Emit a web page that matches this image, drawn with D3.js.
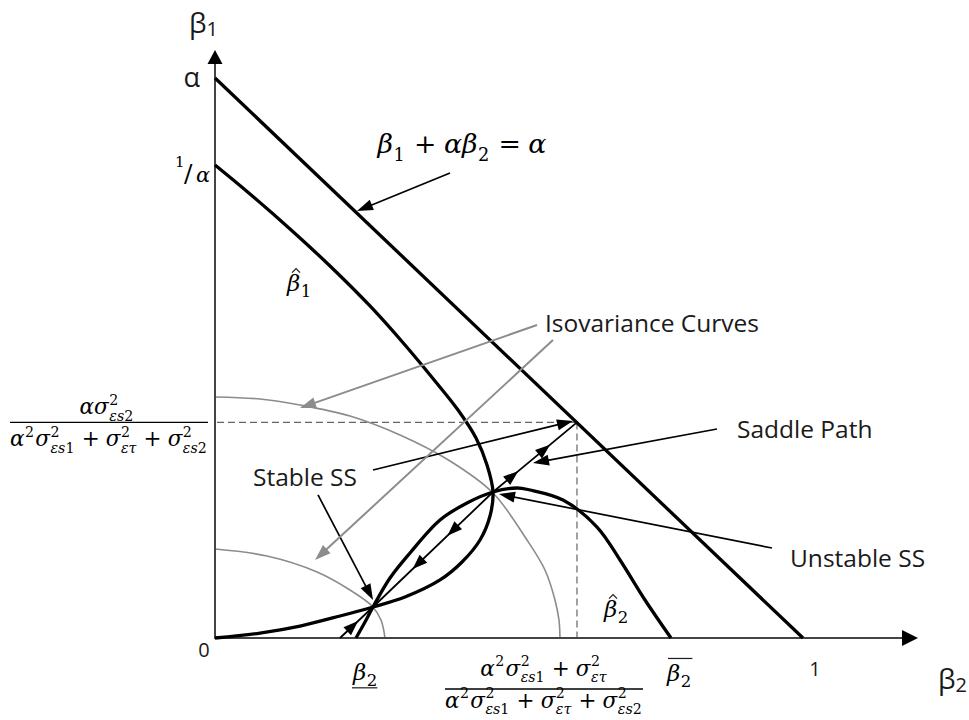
<!DOCTYPE html>
<html>
<head>
<meta charset="utf-8">
<script src="https://cdn.jsdelivr.net/npm/d3@7"></script>
<style>
  body { margin: 0; background: #fff; }
  svg { display: block; }
  .lbl { font-family: "Open Sans", sans-serif; fill: #1a1a1a; }
</style>
</head>
<body>
<div id="wrapper"></div>
<script>
// --- data: beta2 on x, beta1 on y (alpha normalised to 1) ---

const budgetLine = [[0, 1], [1, 0]]

// beta1-hat: from origin, through stable SS, lower lens, unstable SS, up to 1/alpha
const beta1Hat = [
  [0, 0], [0.0765, 0.0089], [0.1446, 0.0214], [0.2126, 0.0393], [0.2687, 0.0554],
  [0.3231, 0.0732], [0.3827, 0.1036], [0.4201, 0.1357], [0.4507, 0.1750], [0.4677, 0.2179],
  [0.4728, 0.2607], [0.4626, 0.3089], [0.4439, 0.3571], [0.4133, 0.4071], [0.3741, 0.4589],
  [0.3231, 0.5232], [0.2636, 0.5929], [0.1956, 0.6643], [0.1276, 0.7304], [0.0595, 0.7929],
  [0, 0.8446]
]

// beta2-hat: from the axis, through stable SS, upper lens, unstable SS, hump, down to beta2-bar
const beta2Hat = [
  [0.2398, 0], [0.2551, 0.0286], [0.2687, 0.0554], [0.2976, 0.1071], [0.3316, 0.1518],
  [0.3827, 0.2107], [0.4286, 0.2411], [0.4728, 0.2607], [0.5136, 0.2679], [0.5357, 0.2643],
  [0.5918, 0.2464], [0.6497, 0.1982], [0.6888, 0.1393], [0.7313, 0.0679], [0.7755, 0]
]

const isoOuter = [
  [0, 0.4304], [0.0765, 0.4268], [0.1446, 0.4161], [0.2296, 0.3964], [0.3146, 0.3625],
  [0.3997, 0.3161], [0.4728, 0.2589], [0.5306, 0.1750], [0.5612, 0.1214], [0.5782, 0.0679],
  [0.5850, 0.0321], [0.5867, 0]
]
const isoInner = [
  [0, 0.1589], [0.0884, 0.1464], [0.1735, 0.1179], [0.2296, 0.0857], [0.2670, 0.0571],
  [0.2823, 0.0321], [0.2891, 0]
]

// saddle path: axis -> stable SS -> unstable SS -> budget line
const saddlePath = [[0.2126, 0], [0.2687, 0.0554], [0.4728, 0.2607], [0.6156, 0.3850]]
const saddleArrows = [
  { seg: 0, t: 0.55, back: false },
  { seg: 1, t: 0.33, back: true },
  { seg: 1, t: 0.62, back: true },
  { seg: 2, t: 0.30, back: false },
  { seg: 2, t: 0.68, back: false }
]

const yTicks = { alpha: 1, invAlpha: 0.8446, frac: 0.3850 }
const xTicks = { low: 0.2602, frac: 0.6156, high: 0.7755, one: 1 }

// --- chart ---

const width = 969
const height = 720
const svg = d3.select("#wrapper").append("svg")
  .attr("width", width)
  .attr("height", height)

const x = d3.scaleLinear().domain([0, 1]).range([215, 803])
const y = d3.scaleLinear().domain([0, 1]).range([638, 78])
const P = d => [x(d[0]), y(d[1])]

const MATH = "'DejaVu Serif', serif"

const curve = d3.line()
  .x(d => x(d[0]))
  .y(d => y(d[1]))
  .curve(d3.curveCatmullRom.alpha(0.5))
const straight = d3.line().x(d => x(d[0])).y(d => y(d[1]))

function head(g, tip, from, len, wid, color) {
  const dx = tip[0] - from[0], dy = tip[1] - from[1]
  const L = Math.hypot(dx, dy)
  const ux = dx / L, uy = dy / L
  const bx = tip[0] - ux * len, by = tip[1] - uy * len
  g.append("path")
    .attr("d", `M${tip[0]},${tip[1]}L${bx - uy * wid / 2},${by + ux * wid / 2}L${bx + uy * wid / 2},${by - ux * wid / 2}Z`)
    .attr("fill", color)
}

function pointer(g, from, to, color, w) {
  const a = P(from), b = P(to)
  const L = Math.hypot(b[0] - a[0], b[1] - a[1])
  const k = (L - 8) / L
  g.append("line")
    .attr("x1", a[0]).attr("y1", a[1])
    .attr("x2", a[0] + (b[0] - a[0]) * k).attr("y2", a[1] + (b[1] - a[1]) * k)
    .attr("stroke", color).attr("stroke-width", w)
  head(g, b, a, 16, 11, color)
}

// dashed guides
const guides = svg.append("g")
  .attr("stroke", "#666").attr("stroke-width", 1.2).attr("stroke-dasharray", "7,4").attr("fill", "none")
guides.append("line")
  .attr("x1", x(0) + 2).attr("x2", x(xTicks.frac))
  .attr("y1", y(yTicks.frac)).attr("y2", y(yTicks.frac))
guides.append("line")
  .attr("x1", x(xTicks.frac)).attr("x2", x(xTicks.frac))
  .attr("y1", y(yTicks.frac)).attr("y2", y(0))

// isovariance curves
svg.selectAll(".iso").data([isoOuter, isoInner]).join("path")
  .attr("class", "iso")
  .attr("d", curve)
  .attr("fill", "none").attr("stroke", "#8c8c8c").attr("stroke-width", 1.6)

// axes
const axes = svg.append("g")
axes.append("line")
  .attr("x1", x(0)).attr("x2", x(0)).attr("y1", y(0) + 1).attr("y2", 62)
  .attr("stroke", "#444").attr("stroke-width", 2)
head(axes, [x(0), 50], [x(0), y(0)], 14, 15, "#000")
axes.append("line")
  .attr("x1", x(0) - 1).attr("x2", 905).attr("y1", y(0)).attr("y2", y(0))
  .attr("stroke", "#444").attr("stroke-width", 2)
head(axes, [918, y(0)], [x(0), y(0)], 16, 16, "#000")

// main curves
svg.append("path").attr("d", straight(budgetLine))
  .attr("fill", "none").attr("stroke", "#000").attr("stroke-width", 3.3)
svg.selectAll(".hat").data([beta1Hat, beta2Hat]).join("path")
  .attr("class", "hat")
  .attr("d", curve)
  .attr("fill", "none").attr("stroke", "#000").attr("stroke-width", 3.3)

// saddle path with arrows
const sp = svg.append("g")
sp.append("path").attr("d", straight(saddlePath))
  .attr("fill", "none").attr("stroke", "#000").attr("stroke-width", 1.8)
saddleArrows.forEach(a => {
  const p0 = P(saddlePath[a.seg]), p1 = P(saddlePath[a.seg + 1])
  const tip = [p0[0] + (p1[0] - p0[0]) * a.t, p0[1] + (p1[1] - p0[1]) * a.t]
  const from = a.back ? p1 : p0
  head(sp, tip, from, 15, 11, "#000")
})

// annotation pointers
const ann = svg.append("g")
pointer(ann, [0.3997, 0.8304], [0.2415, 0.7625], "#000", 1.7)
pointer(ann, [0.8537, 0.3732], [0.5408, 0.3125], "#000", 1.7)
pointer(ann, [0.2687, 0.3000], [0.6088, 0.3875], "#000", 1.7)
pointer(ann, [0.1752, 0.2554], [0.2687, 0.0679], "#000", 1.7)
pointer(ann, [0.9473, 0.1607], [0.4830, 0.2571], "#000", 1.7)
pointer(ann, [0.5476, 0.5589], [0.1446, 0.4107], "#8c8c8c", 2)
pointer(ann, [0.5748, 0.5321], [0.1701, 0.1393], "#8c8c8c", 2)

// text labels
const txt = svg.append("g").attr("class", "lbl").attr("font-size", 24.5)
txt.append("text").attr("x", 545).attr("y", 332).text("Isovariance Curves")
txt.append("text").attr("x", 737).attr("y", 438).text("Saddle Path")
txt.append("text").attr("x", 790).attr("y", 567).text("Unstable SS")
txt.append("text").attr("x", 253).attr("y", 486).text("Stable SS")

// axis titles
function sansBeta(px, py, sub) {
  const t = svg.append("text").attr("class", "lbl").attr("x", px).attr("y", py).attr("font-size", 28)
  t.append("tspan").text("β")
  t.append("tspan").attr("font-size", 20).attr("dy", 3).text(sub)
}
sansBeta(189, 33, "1")
sansBeta(938, 689, "2")

svg.append("text").attr("class", "lbl").attr("font-size", 27)
  .attr("x", x(0) - 15).attr("y", y(yTicks.alpha) + 9).attr("text-anchor", "end").text("α")
svg.append("text").attr("class", "lbl").attr("font-size", 20)
  .attr("x", x(0) - 11).attr("y", y(0) + 19).attr("text-anchor", "middle").text("0")
svg.append("text").attr("class", "lbl").attr("font-size", 20)
  .attr("x", x(xTicks.one) + 12).attr("y", y(0) + 38).attr("text-anchor", "middle").text("1")

// 1/alpha
const inv = svg.append("g").attr("font-family", MATH)
inv.append("text").attr("x", 175).attr("y", y(yTicks.invAlpha) + 2).attr("font-size", 15).text("1")
inv.append("text").attr("x", 184).attr("y", y(yTicks.invAlpha) + 17).attr("font-size", 25).text("/")
inv.append("text").attr("x", 196).attr("y", y(yTicks.invAlpha) + 17).attr("font-size", 21)
  .style("font-style", "italic").text("α")

// math helpers
function rich(g, str, px, py, size) {
  const t = g.append("text").attr("x", px).attr("y", py).attr("font-size", size).attr("font-family", MATH)
  for (const ch of str) {
    t.append("tspan").style("font-style", /[0-9+=\/ ]/.test(ch) ? "normal" : "italic").text(ch)
  }
  return t.node().getComputedTextLength()
}

function mathRow(parent, tokens, size) {
  const g = parent.append("g")
  let w = 0
  tokens.forEach(tok => {
    if (tok.op) {
      w += size * 0.28
      w += rich(g, tok.op, w, 0, size)
      w += size * 0.28
      return
    }
    w += rich(g, tok.b, w, 0, size)
    let s = 0
    if (tok.sup) s = Math.max(s, rich(g, tok.sup, w + 0.5, -size * 0.45, size * 0.66))
    if (tok.sub) s = Math.max(s, rich(g, tok.sub, w + 0.5, size * 0.3, size * 0.66))
    if (s) w += s + size * 0.08
  })
  return { g, w }
}

function sizeFor(tokens, targetW) {
  const r = mathRow(svg, tokens, 20)
  r.g.remove()
  return 20 * targetW / r.w
}

function place(tokens, size, cx, baseY) {
  const r = mathRow(svg, tokens, size)
  r.g.attr("transform", `translate(${cx - r.w / 2},${baseY})`)
}

const denom = [
  { b: "α", sup: "2" }, { b: "σ", sup: "2", sub: "εs1" }, { op: "+" },
  { b: "σ", sup: "2", sub: "ετ" }, { op: "+" }, { b: "σ", sup: "2", sub: "εs2" }
]
const leftNum = [{ b: "α" }, { b: "σ", sup: "2", sub: "εs2" }]
const bottomNum = [{ b: "α", sup: "2" }, { b: "σ", sup: "2", sub: "εs1" }, { op: "+" }, { b: "σ", sup: "2", sub: "ετ" }]
const equation = [{ b: "β", sub: "1" }, { op: "+" }, { b: "αβ", sub: "2" }, { op: "=" }, { b: "α" }]

const fs = sizeFor(denom, 198)

// left fraction (beta1 of the saddle point)
const yF = y(yTicks.frac)
place(leftNum, fs, 107, yF - 8)
svg.append("line").attr("x1", 10).attr("x2", 208).attr("y1", yF).attr("y2", yF)
  .attr("stroke", "#000").attr("stroke-width", 1.3)
place(denom, fs, 109, yF + 24)

// bottom fraction (beta2 of the saddle point)
const xF = x(xTicks.frac) - 33
place(bottomNum, fs, xF, 676)
svg.append("line").attr("x1", xF - 99).attr("x2", xF + 99).attr("y1", 689).attr("y2", 689)
  .attr("stroke", "#000").attr("stroke-width", 1.3)
place(denom, fs, xF, 708)

// budget line equation
place(equation, sizeFor(equation, 169), 462, 153)

// decorated beta labels
function betaLabel(px, py, size, sub, deco) {
  const g = svg.append("g").attr("transform", `translate(${px},${py})`).attr("font-family", MATH)
  const b = g.append("text").attr("font-size", size).style("font-style", "italic").text("β")
  const bw = b.node().getComputedTextLength()
  const s = g.append("text").attr("x", bw + 0.5).attr("y", size * 0.28).attr("font-size", size * 0.72).text(sub)
  const total = bw + 0.5 + s.node().getComputedTextLength()
  let path = null
  if (deco === "hat") path = `M${bw * 0.38},${-size * 0.8}L${bw * 0.68},${-size * 0.97}L${bw * 0.98},${-size * 0.8}`
  if (deco === "over") path = `M${1},${-size * 0.98}L${total + 1},${-size * 0.98}`
  if (deco === "under") path = `M${-1},${size * 0.34}L${total},${size * 0.34}`
  if (path) {
    g.append("path").attr("d", path)
      .attr("stroke", "#1a1a1a").attr("stroke-width", 1.2).attr("fill", "none")
  }
}

betaLabel(287, 291, 23, "1", "hat")
betaLabel(604, 617, 23, "2", "hat")
betaLabel(x(xTicks.low) - 15, 680, 23, "2", "under")
betaLabel(x(xTicks.high) - 4, 681, 23, "2", "over")
</script>
</body>
</html>
